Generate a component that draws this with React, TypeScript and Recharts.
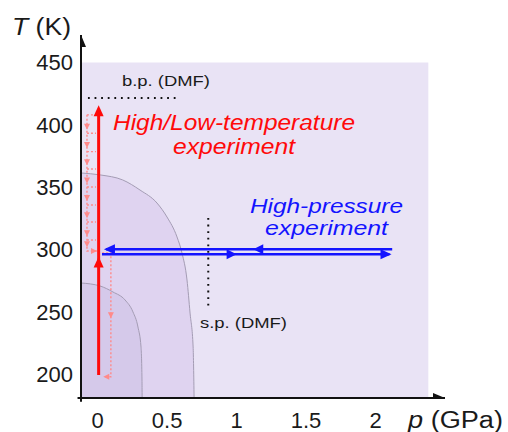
import React from 'react';
import {
  ComposedChart,
  XAxis,
  YAxis,
  Area,
  Line,
  Scatter,
  ReferenceArea,
  ReferenceLine,
} from 'recharts';

// Axis ticks
const pTicks = [0, 0.5, 1, 1.5, 2];
const tTicks = [200, 250, 300, 350, 400, 450];

// Phase boundaries (p in GPa, T in K)
const outerBoundary = [
  { p: -0.12, T: 361.4 },
  { p: 0.02, T: 359.8 },
  { p: 0.18, T: 355.8 },
  { p: 0.305, T: 347.7 },
  { p: 0.427, T: 337.3 },
  { p: 0.499, T: 326.1 },
  { p: 0.571, T: 310.1 },
  { p: 0.607, T: 297.2 },
  { p: 0.643, T: 275.6 },
  { p: 0.665, T: 249.1 },
  { p: 0.687, T: 221.9 },
  { p: 0.694, T: 181 },
];
const innerBoundary = [
  { p: -0.12, T: 273.2 },
  { p: 0.017, T: 270.8 },
  { p: 0.11, T: 266 },
  { p: 0.197, T: 259.6 },
  { p: 0.254, T: 250 },
  { p: 0.29, T: 237.9 },
  { p: 0.312, T: 221.9 },
  { p: 0.319, T: 195.4 },
  { p: 0.32, T: 181 },
];

// Reference lines for DMF
const boilingLine = [
  { p: -0.07, T: 421.5 },
  { p: 0.59, T: 421.5 },
];
const solidLine = [
  { p: 0.796, T: 325.3 },
  { p: 0.796, T: 251.5 },
];

// Temperature sweep at ambient pressure
const heatingPath = [
  { p: 0.007, T: 199.4 },
  { p: 0.007, T: 409 },
];
const coolingStepsT = [408, 393.2, 378.5, 364.6, 350.1, 335.7, 322.1, 307.7];
const coolingLeftP = -0.077;
const coolingRightP = -0.012;
const coolingEndT = 298.8;
const coolingArrowTips = [396, 381.5, 367.5, 353, 339, 325, 310.7, 301.8];
const coolingTail = [
  { p: 0.003, T: 297.2 },
  { p: 0.095, T: 297.2 },
  { p: 0.095, T: 198 },
  { p: 0.045, T: 198 },
];

// Pressure sweep at room temperature
const compressPath = [
  { p: 0.031, T: 296.2 },
  { p: 2.1, T: 296.2 },
];
const decompressPath = [
  { p: 0.06, T: 300.2 },
  { p: 2.12, T: 300.2 },
];

type Dir = 'up' | 'down' | 'left' | 'right';
type Head = { p: number; T: number; dir: Dir; len: number; half: number; color: string };

const redHeads: Head[] = [
  { p: 0.007, T: 415.7, dir: 'up', len: 11, half: 5, color: '#ff0a0a' },
  { p: 0.007, T: 294.5, dir: 'up', len: 11, half: 5, color: '#ff0a0a' },
];
const blueHeads: Head[] = [
  { p: 0.045, T: 300.2, dir: 'left', len: 11, half: 5, color: '#1414ff' },
  { p: 1.12, T: 300.2, dir: 'left', len: 10, half: 5, color: '#1414ff' },
  { p: 1.0, T: 296.2, dir: 'right', len: 10, half: 5, color: '#1414ff' },
  { p: 2.115, T: 296.2, dir: 'right', len: 11, half: 5, color: '#1414ff' },
];
const pinkHeads: Head[] = [
  ...coolingArrowTips.map((t) => ({
    p: coolingLeftP,
    T: t,
    dir: 'down' as Dir,
    len: 6,
    half: 3,
    color: '#ff8a8a',
  })),
  { p: -0.005, T: coolingEndT, dir: 'right', len: 6, half: 3, color: '#ff8a8a' },
  { p: 0.095, T: 245, dir: 'down', len: 6, half: 3, color: '#ff8a8a' },
  { p: 0.04, T: 198, dir: 'left', len: 6, half: 3, color: '#ff8a8a' },
];
const axisHeads: Head[] = [
  { p: -0.12, T: 472, dir: 'up', len: 12, half: 5, color: '#111' },
  { p: 2.5, T: 181, dir: 'right', len: 12, half: 5, color: '#111' },
];

const ArrowHead = (props: any) => {
  const { cx, cy, payload } = props;
  if (cx == null || cy == null) return null;
  const { dir, len, half, color } = payload as Head;
  let pts: number[][];
  if (dir === 'up') pts = [[cx, cy], [cx - half, cy + len], [cx + half, cy + len]];
  else if (dir === 'down') pts = [[cx, cy], [cx - half, cy - len], [cx + half, cy - len]];
  else if (dir === 'left') pts = [[cx, cy], [cx + len, cy - half], [cx + len, cy + half]];
  else pts = [[cx, cy], [cx - len, cy - half], [cx - len, cy + half]];
  return <polygon points={pts.map((q) => q.join(',')).join(' ')} fill={color} />;
};

const font = 'Arial, "Liberation Sans", Helvetica, sans-serif';

// Annotation texts, drawn on a layer above the plot
const Annotations = () => (
  <svg
    width={508}
    height={432}
    style={{ position: 'absolute', left: 0, top: 0, pointerEvents: 'none' }}
  >
    <text x={122} y={86} fontSize={15} fill="#1a1a1a" fontFamily={font} textLength={88} lengthAdjust="spacingAndGlyphs">
      b.p. (DMF)
    </text>
    <text x={200} y={328} fontSize={15} fill="#1a1a1a" fontFamily={font} textLength={87} lengthAdjust="spacingAndGlyphs">
      s.p. (DMF)
    </text>
    <text x={113} y={130} fontSize={22} fill="#ff0a0a" fontStyle="italic" fontFamily={font} textLength={242} lengthAdjust="spacingAndGlyphs">
      High/Low-temperature
    </text>
    <text x={173} y={154} fontSize={22} fill="#ff0a0a" fontStyle="italic" fontFamily={font} textLength={122} lengthAdjust="spacingAndGlyphs">
      experiment
    </text>
    <text x={250} y={213} fontSize={21} fill="#1414ff" fontStyle="italic" fontFamily={font} textLength={153} lengthAdjust="spacingAndGlyphs">
      High-pressure
    </text>
    <text x={265} y={235} fontSize={21} fill="#1414ff" fontStyle="italic" fontFamily={font} textLength={123} lengthAdjust="spacingAndGlyphs">
      experiment
    </text>
    <text x={12} y={35} fontSize={23} fill="#1a1a1a" fontFamily={font} textLength={59} lengthAdjust="spacingAndGlyphs">
      <tspan fontStyle="italic">T</tspan> (K)
    </text>
    <text x={408} y={428} fontSize={23} fill="#1a1a1a" fontFamily={font} textLength={95} lengthAdjust="spacingAndGlyphs">
      <tspan fontStyle="italic">p</tspan> (GPa)
    </text>
  </svg>
);

export default function App() {
  const stepLines = coolingStepsT.map((t) => [
    { p: coolingLeftP, T: t },
    { p: coolingRightP, T: t },
  ]);
  const coolingVertical = [
    { p: coolingLeftP, T: coolingStepsT[0] },
    { p: coolingLeftP, T: coolingEndT },
    { p: -0.005, T: coolingEndT },
  ];

  const dotted = { stroke: '#ff8a8a', strokeWidth: 1.4, strokeDasharray: '2 2' };

  return (
    <div style={{ position: 'absolute', left: 0, top: 0, width: 508, height: 432 }}>
      <ComposedChart
        width={508}
        height={432}
        margin={{ top: 35, right: 63, bottom: 0, left: 0 }}
        style={{ fontFamily: font }}
      >
        <XAxis
          type="number"
          dataKey="p"
          domain={[-0.12, 2.5]}
          ticks={pTicks}
          allowDataOverflow
          height={34}
          tickLine={false}
          tickMargin={8}
          axisLine={{ stroke: '#111', strokeWidth: 2 }}
          tick={{ fill: '#1a1a1a', fontSize: 22, fontFamily: font }}
        />
        <YAxis
          type="number"
          dataKey="T"
          domain={[181, 472]}
          ticks={tTicks}
          allowDataOverflow
          width={81}
          tickLine={false}
          axisLine={{ stroke: '#111', strokeWidth: 2 }}
          tick={{ fill: '#1a1a1a', fontSize: 22, fontFamily: font }}
        />

        <ReferenceArea x1={-0.12} x2={2.38} y1={181} y2={450} fill="#e9e3f5" fillOpacity={1} stroke="none" />

        <Area
          data={outerBoundary}
          dataKey="T"
          type="monotone"
          baseValue={181}
          fill="#dfd3f0"
          fillOpacity={1}
          stroke="#a49cb4"
          strokeWidth={1}
          isAnimationActive={false}
        />
        <Area
          data={innerBoundary}
          dataKey="T"
          type="monotone"
          baseValue={181}
          fill="#d5c9ea"
          fillOpacity={1}
          stroke="#a49cb4"
          strokeWidth={1}
          isAnimationActive={false}
        />

        <ReferenceLine
          segment={[{ x: -0.145, y: 181 }, { x: -0.12, y: 181 }]}
          stroke="#111"
          strokeWidth={2}
          ifOverflow="visible"
        />
        <ReferenceLine
          segment={[{ x: -0.12, y: 181 }, { x: -0.12, y: 178 }]}
          stroke="#111"
          strokeWidth={2}
          ifOverflow="visible"
        />

        <Line data={boilingLine} dataKey="T" stroke="#111" strokeWidth={2} strokeDasharray="1.8 4.8" dot={false} isAnimationActive={false} />
        <Line data={solidLine} dataKey="T" stroke="#111" strokeWidth={2} strokeDasharray="1.8 4.8" dot={false} isAnimationActive={false} />

        {stepLines.map((seg, i) => (
          <Line key={`step-${i}`} data={seg} dataKey="T" {...dotted} dot={false} isAnimationActive={false} />
        ))}
        <Line data={coolingVertical} dataKey="T" {...dotted} dot={false} isAnimationActive={false} />
        <Line data={coolingTail} dataKey="T" {...dotted} dot={false} isAnimationActive={false} />

        <Line data={heatingPath} dataKey="T" stroke="#ff0a0a" strokeWidth={3} dot={false} isAnimationActive={false} />

        <Line data={decompressPath} dataKey="T" stroke="#1414ff" strokeWidth={2.6} dot={false} isAnimationActive={false} />
        <Line data={compressPath} dataKey="T" stroke="#1414ff" strokeWidth={2.6} dot={false} isAnimationActive={false} />

        <Scatter data={pinkHeads} dataKey="T" shape={ArrowHead} isAnimationActive={false} />
        <Scatter data={redHeads} dataKey="T" shape={ArrowHead} isAnimationActive={false} />
        <Scatter data={blueHeads} dataKey="T" shape={ArrowHead} isAnimationActive={false} />
        <Scatter data={axisHeads} dataKey="T" shape={ArrowHead} isAnimationActive={false} />
      </ComposedChart>
      <Annotations />
    </div>
  );
}
